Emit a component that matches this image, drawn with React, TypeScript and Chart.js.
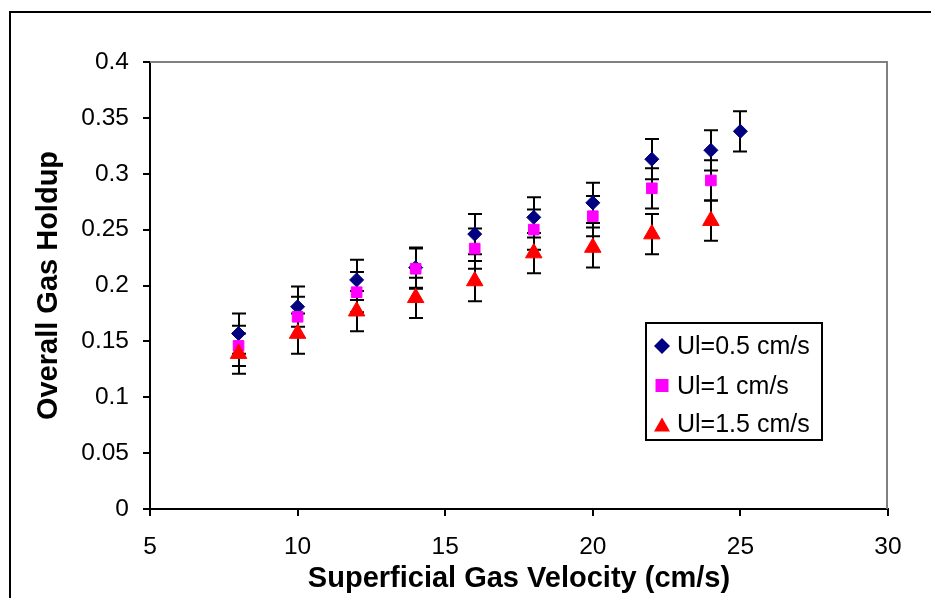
import React, { useEffect, useRef } from "react";
import { Chart, registerables } from "chart.js";

Chart.register(...registerables);

// ---- Data ----
const seriesLabels = ["Ul=0.5 cm/s", "Ul=1 cm/s", "Ul=1.5 cm/s"];

const velocity05 = [8, 10, 12, 14, 16, 18, 20, 22, 24, 25];
const holdup05 = [0.157, 0.181, 0.205, 0.216, 0.246, 0.261, 0.274, 0.313, 0.321, 0.338];
const error05 = [0.018, 0.018, 0.018, 0.018, 0.018, 0.018, 0.018, 0.018, 0.018, 0.018];

const velocity10 = [8, 10, 12, 14, 16, 18, 20, 22, 24];
const holdup10 = [0.146, 0.172, 0.194, 0.215, 0.233, 0.25, 0.262, 0.287, 0.294];
const error10 = [0.018, 0.018, 0.018, 0.018, 0.018, 0.018, 0.018, 0.018, 0.018];

const velocity15 = [8, 10, 12, 14, 16, 18, 20, 22, 24];
const holdup15 = [0.139, 0.157, 0.177, 0.189, 0.204, 0.229, 0.234, 0.246, 0.258];
const error15 = [0.018, 0.018, 0.018, 0.018, 0.018, 0.018, 0.018, 0.018, 0.018];

const xAxisTitle = "Superficial Gas Velocity (cm/s)";
const yAxisTitle = "Overall Gas Holdup";
const xMin = 5, xMax = 30, xStep = 5;
const yMin = 0, yMax = 0.4, yStep = 0.05;

const FONT = "'Liberation Sans', Arial, sans-serif";

const errorsBySeries = [error05, error10, error15];

const frameAndErrorPlugin = {
  id: "frameAndError",
  beforeDraw(chart: any) {
    const ctx = chart.ctx;
    ctx.save();
    ctx.fillStyle = "#ffffff";
    ctx.fillRect(0, 0, chart.width, chart.height);
    ctx.strokeStyle = "#000000";
    ctx.lineWidth = 2;
    ctx.beginPath();
    ctx.moveTo(10, chart.height);
    ctx.lineTo(10, 12);
    ctx.lineTo(chart.width, 12);
    ctx.stroke();
    ctx.restore();
  },
  beforeDatasetsDraw(chart: any) {
    const ctx = chart.ctx;
    const area = chart.chartArea;
    ctx.save();
    // gray plot-area border (top & right)
    ctx.strokeStyle = "#808080";
    ctx.lineWidth = 2;
    ctx.beginPath();
    ctx.moveTo(area.left, area.top);
    ctx.lineTo(area.right - 1, area.top);
    ctx.lineTo(area.right - 1, area.bottom);
    ctx.stroke();
    // error bars
    const xs = chart.scales.x;
    const ys = chart.scales.y;
    ctx.strokeStyle = "#000000";
    ctx.lineWidth = 2;
    chart.data.datasets.forEach((ds: any, i: number) => {
      const errs = errorsBySeries[i];
      ds.data.forEach((p: any, j: number) => {
        const e = errs[j];
        const px = Math.round(xs.getPixelForValue(p.x));
        const yTop = ys.getPixelForValue(p.y + e);
        const yBot = ys.getPixelForValue(p.y - e);
        ctx.beginPath();
        ctx.moveTo(px, yTop);
        ctx.lineTo(px, yBot);
        ctx.moveTo(px - 7, yTop);
        ctx.lineTo(px + 7, yTop);
        ctx.moveTo(px - 7, yBot);
        ctx.lineTo(px + 7, yBot);
        ctx.stroke();
      });
    });
    ctx.restore();
  },
  afterDraw(chart: any) {
    const ctx = chart.ctx;
    ctx.save();
    // legend box
    const bx = 646, by = 323, bw = 176, bh = 117;
    ctx.fillStyle = "#ffffff";
    ctx.fillRect(bx, by, bw, bh);
    ctx.strokeStyle = "#000000";
    ctx.lineWidth = 2;
    ctx.strokeRect(bx, by, bw, bh);
    const rows = [346, 386, 424.5];
    const mx = 662;
    chart.data.datasets.forEach((ds: any, i: number) => {
      const cy = rows[i];
      ctx.fillStyle = ds.backgroundColor;
      ctx.beginPath();
      if (ds.pointStyle === "rectRot") {
        ctx.moveTo(mx, cy - 8);
        ctx.lineTo(mx + 8, cy);
        ctx.lineTo(mx, cy + 8);
        ctx.lineTo(mx - 8, cy);
      } else if (ds.pointStyle === "rect") {
        ctx.rect(mx - 6.5, cy - 7, 13, 13);
      } else {
        ctx.moveTo(mx, cy - 7);
        ctx.lineTo(mx + 8, cy + 7);
        ctx.lineTo(mx - 8, cy + 7);
      }
      ctx.closePath();
      ctx.fill();
      ctx.fillStyle = "#000000";
      ctx.font = `25px ${FONT}`;
      ctx.textAlign = "left";
      ctx.textBaseline = "middle";
      ctx.fillText(ds.label, 677, cy + 1);
    });
    ctx.restore();
  },
};

export default function App() {
  const canvasRef = useRef<HTMLCanvasElement | null>(null);

  useEffect(() => {
    const canvas = canvasRef.current;
    if (!canvas) return;
    const toPoints = (xs: number[], ys: number[]) => xs.map((x, i) => ({ x, y: ys[i] }));
    const chart = new Chart(canvas, {
      type: "scatter",
      data: {
        datasets: [
          {
            label: seriesLabels[0],
            data: toPoints(velocity05, holdup05),
            pointStyle: "rectRot",
            pointRadius: 7,
            borderWidth: 1,
            backgroundColor: "#000080",
            borderColor: "#000080",
            order: 3,
          },
          {
            label: seriesLabels[1],
            data: toPoints(velocity10, holdup10),
            pointStyle: "rect",
            pointRadius: 7.5,
            borderWidth: 1,
            backgroundColor: "#FF00FF",
            borderColor: "#FF00FF",
            order: 2,
          },
          {
            label: seriesLabels[2],
            data: toPoints(velocity15, holdup15),
            pointStyle: "triangle",
            pointRadius: 9.5,
            borderWidth: 1,
            backgroundColor: "#FF0000",
            borderColor: "#FF0000",
            order: 1,
          },
        ] as any,
      },
      options: {
        animation: false,
        responsive: false,
        devicePixelRatio: 1,
        layout: { padding: { top: 62, right: 43, bottom: 0, left: 0 } },
        plugins: {
          legend: { display: false },
          tooltip: { enabled: false },
        },
        scales: {
          x: {
            type: "linear",
            min: xMin,
            max: xMax,
            afterFit: (scale: any) => {
              scale.height = 89;
            },
            ticks: {
              stepSize: xStep,
              color: "#000000",
              font: { family: FONT, size: 24.5 },
              padding: 17,
              maxRotation: 0,
            },
            grid: {
              display: true,
              drawOnChartArea: false,
              drawTicks: true,
              tickLength: 7,
              color: "#000000",
              lineWidth: 2,
            },
            border: { display: true, color: "#000000", width: 2 },
            title: {
              display: true,
              text: xAxisTitle,
              color: "#000000",
              font: { family: FONT, size: 29, weight: "bold" },
              padding: { top: 0, bottom: 1.5 },
            },
          },
          y: {
            type: "linear",
            min: yMin,
            max: yMax,
            afterFit: (scale: any) => {
              scale.width = 150;
            },
            ticks: {
              stepSize: yStep,
              color: "#000000",
              font: { family: FONT, size: 24.5 },
              padding: 14,
              callback: (v: any) => String(Number(Number(v).toFixed(2))),
            },
            grid: {
              display: true,
              drawOnChartArea: false,
              drawTicks: true,
              tickLength: 7,
              color: "#000000",
              lineWidth: 2,
            },
            border: { display: true, color: "#000000", width: 2 },
            title: {
              display: true,
              text: yAxisTitle,
              color: "#000000",
              font: { family: FONT, size: 29, weight: "bold" },
              padding: { top: 31.5, bottom: 0 },
            },
          },
        },
      } as any,
      plugins: [frameAndErrorPlugin],
    });
    return () => chart.destroy();
  }, []);

  return (
    <div style={{ position: "absolute", left: 0, top: 0, width: 931, height: 598, background: "#fff" }}>
      <canvas ref={canvasRef} width={931} height={598} style={{ display: "block" }} />
    </div>
  );
}
